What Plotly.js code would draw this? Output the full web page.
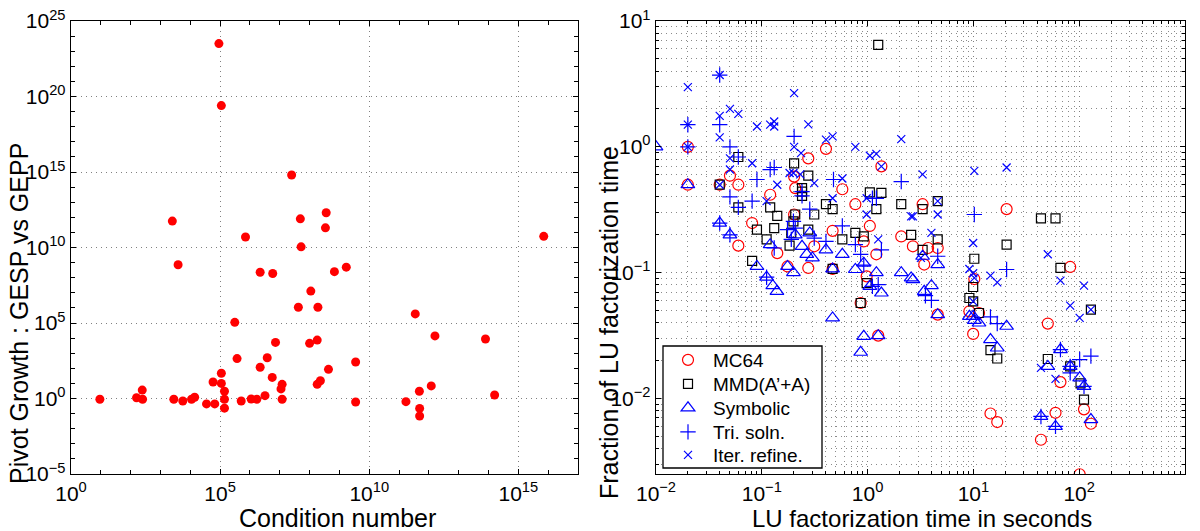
<!DOCTYPE html>
<html>
<head>
<meta charset="utf-8">
<script src="https://cdn.plot.ly/plotly-3.0.1.min.js"></script>
<style>
html,body{margin:0;padding:0;background:#fff;}
#chart{width:1200px;height:531px;}
#chart g.annotation:nth-of-type(3) text.annotation-text,
#chart g.annotation:nth-of-type(4) text.annotation-text{letter-spacing:2.5px;}
</style>
</head>
<body>
<div id="chart"></div>
<script>
// Left panel: condition number vs pivot growth (GESP vs GEPP)
const condNumber = [9.1e4,1.1e5,2.5e7,2.5e3,4.9e7,3.6e8,3.4e8,7.1e5,5.2e7,7.1e15,3.9e3,2.2e6,5.8e6,6.8e8,1.7e9,1.1e8,4.2e7,1.9e8,3.5e11,3.1e5,1.6e12,7.9e13,7.2e6,1.0e8,1.8e8,3.7e5,3.8e6,2.2e6,3.5e9,4.3e8,1.1e5,5.6e6,5.8e4,1.1e5,1.2e7,1.1e7,2.3e8,1.8e8,1.2e12,4.8e11,1.4e5,245,158,251,9.3,2.8e3,5.6e3,1.1e4,1.4e4,3.5e4,6.6e4,1.4e5,1.4e5,5.1e5,1.1e6,1.7e6,3.2e6,1.2e7,3.5e9,1.7e11,4.9e11,4.9e11,1.6e14];
const pivotGrowth = [3.2e23,2.5e19,6.3e14,5.6e11,7.9e11,2.0e12,2.0e11,5.0e10,1.1e10,5.5e10,7.2e8,2.3e8,1.9e8,2.5e8,5.0e8,1.3e7,1.1e6,1.1e6,4.0e5,1.1e5,1.4e4,8.7e3,5.2e3,4.5e3,7.4e3,440,500,117,263,85,47,25,12.3,10,8.7,4.3,15,8.7,6.8,3.0,3.0,3.6,1.12,0.89,0.89,0.89,0.68,0.89,1.2,0.44,0.44,0.89,0.23,0.68,0.93,0.89,1.55,0.89,0.59,0.62,0.22,0.069,1.7];
const leftXTickVals = [1, 1e5, 1e10, 1e15];
const leftXTickText = ['10<sup>0</sup>', '10<sup>5</sup>', '10<sup>10</sup>', '10<sup>15</sup>'];
const leftYTickVals = [1e-5, 1, 1e5, 1e10, 1e15, 1e20, 1e25];
const leftYTickText = ['10<sup>\u22125</sup>', '10<sup>0</sup>', '10<sup>5</sup>', '10<sup>10</sup>', '10<sup>15</sup>', '10<sup>20</sup>', '10<sup>25</sup>'];

// Right panel: fraction of LU factorization time vs LU time (s)
const mc64Time = [0.02,0.02,0.04,0.05,0.06,0.06,0.081,0.12,0.14,0.202,0.207,0.275,0.313,0.404,0.467,0.577,0.766,0.92,1.05,1.21,1.35,2.08,2.68,3.31,3.73,4.6,20.6,82.2,0.202,0.175,0.275,0.467,0.98,0.86,1.26,3.43,4.6,9.16,10.2,9.95,11.3,14.5,16.8,50.5,66.5,59.7,43.5,111,129,101];
const mc64Frac = [1.0,0.5,0.5,0.59,0.5,0.164,0.248,0.416,0.143,0.58,0.47,0.81,0.162,0.964,0.215,0.46,0.35,0.177,0.235,0.14,0.70,0.194,0.162,0.35,0.157,0.157,0.32,0.111,0.29,0.112,0.109,0.107,0.0935,0.0574,0.0316,0.116,0.0464,0.0493,0.089,0.0326,0.0478,0.0076,0.0065,0.0394,0.0135,0.0077,0.0047,0.0082,0.0063,0.0025];

const mmdTime = [1.26,0.06,0.202,0.04,0.275,0.24,0.24,0.24,0.06,0.12,0.14,0.207,0.313,0.404,0.467,1.05,1.35,1.21,2.08,3.31,4.6,43.5,59.7,0.09,0.111,0.131,0.19,0.199,0.183,0.275,0.577,0.766,0.92,2.58,3.31,4.6,10.2,20.6,66.5,0.081,0.467,0.98,0.86,9.95,9.16,9.95,11.3,14.5,16.8,129,50.5,82.2,103,111];
const mmdFrac = [6.45,0.83,0.74,0.5,0.59,0.47,0.44,0.408,0.33,0.33,0.283,0.29,0.29,0.35,0.32,0.435,0.43,0.32,0.35,0.32,0.37,0.27,0.27,0.22,0.184,0.226,0.207,0.256,0.164,0.22,0.184,0.207,0.194,0.20,0.152,0.184,0.129,0.167,0.109,0.124,0.107,0.0827,0.0574,0.0769,0.0629,0.0591,0.0478,0.0242,0.0208,0.0508,0.0206,0.018,0.0132,0.0098];

const symTime = [0.01,0.02,0.04,0.05,0.12,0.207,0.24,0.284,0.266,0.301,0.404,0.577,3.31,0.09,0.175,0.199,0.467,0.766,0.92,1.21,1.05,1.35,0.467,0.92,1.26,0.86,2.08,2.58,2.68,4.6,4.01,3.43,4.6,9.16,9.95,10.2,11.3,20.6,14.5,16.8,50.5,66.5,82.2,101,111,129,43.5,59.7,0.111,0.127,0.139];
const symFrac = [1.0,0.5,0.248,0.20,0.167,0.20,0.162,0.207,0.14,0.131,0.152,0.14,0.135,0.112,0.112,0.10,0.107,0.106,0.119,0.10,0.0779,0.0689,0.0437,0.0312,0.0316,0.0233,0.10,0.0908,0.088,0.116,0.0789,0.0711,0.0464,0.045,0.045,0.0418,0.0398,0.0375,0.0294,0.0252,0.018,0.0245,0.018,0.0146,0.0125,0.0068,0.0072,0.006,0.092,0.0789,0.0711];

const triTime = [0.02,0.02,0.04,0.04,0.05,0.202,0.06,0.12,0.131,0.09,0.476,2.08,0.24,0.24,0.05,0.06,0.081,1.11,1.21,10.2,0.04,0.05,0.131,0.175,0.207,0.199,0.19,0.313,0.404,0.577,0.766,1.35,4.6,0.284,0.86,1.11,1.26,3.52,4.01,20.6,14.5,16.8,66.5,82.2,82.2,101,129,111,43.5,59.7,0.92,0.111];
const triFrac = [1.5,1.0,3.72,1.5,1.0,1.21,0.83,0.66,0.685,0.55,0.55,0.53,0.44,0.408,0.40,0.33,0.37,0.39,0.39,0.29,0.248,0.20,0.157,0.22,0.226,0.256,0.184,0.188,0.177,0.235,0.167,0.152,0.135,0.32,0.14,0.0779,0.0804,0.0656,0.0603,0.106,0.0445,0.0394,0.0245,0.018,0.016,0.0204,0.0217,0.0125,0.0072,0.006,0.115,0.092];

const iterTime = [0.02,0.04,0.202,0.02,0.02,0.04,0.05,0.06,0.09,0.12,0.131,0.131,0.275,0.04,0.202,0.404,0.467,0.766,2.08,0.05,0.235,0.081,1.05,1.21,1.35,0.183,0.199,0.05,0.14,0.231,0.313,0.577,3.31,10.2,20.6,0.111,0.467,0.98,4.6,4.6,2.58,2.68,0.98,1.26,4.01,9.95,50.5,0.04,9.16,9.95,10.2,9.95,14.5,16.8,66.5,82.2,101,111,129,43.5,59.7,3.19];
const iterFrac = [2.98,3.72,2.67,1.5,1.0,1.76,2.0,1.83,1.45,1.50,1.59,1.45,1.51,1.19,1.0,1.14,1.21,1.0,1.15,0.81,0.89,0.74,0.85,0.88,0.70,0.62,0.62,0.66,0.50,0.605,0.515,0.56,0.605,0.645,0.685,0.37,0.39,0.39,0.37,0.29,0.28,0.28,0.29,0.184,0.207,0.172,0.14,0.5,0.107,0.099,0.0908,0.0591,0.0946,0.0837,0.0864,0.0547,0.0437,0.0789,0.0508,0.0175,0.0143,0.131];

const rightXTickVals = [0.01, 0.1, 1, 10, 100, 1000];
const rightXTickText = ['10<sup>\u22122</sup>', '10<sup>\u22121</sup>', '10<sup>0</sup>', '10<sup>1</sup>', '10<sup>2</sup>', '10<sup>3</sup>'];
const rightYTickVals = [0.01, 0.1, 1, 10];
const rightYTickText = ['10<sup>\u22122</sup>', '10<sup>\u22121</sup>', '10<sup>0</sup>', '10<sup>1</sup>'];

const FONT = 'Liberation Sans, Arial, sans-serif';
const BLUE = '#0000ff', RED = '#ff0000';
const GRIDDASH = '1px,4px';

const traces = [
  {x: condNumber, y: pivotGrowth, xaxis:'x', yaxis:'y', type:'scatter', mode:'markers', showlegend:false,
   marker:{color:RED, size:9, line:{width:0}}},
  {x: mc64Time, y: mc64Frac, xaxis:'x2', yaxis:'y2', type:'scatter', mode:'markers', name:'MC64', legend:'legend',
   marker:{symbol:'circle-open', color:RED, size:11, line:{width:1.2}}},
  {x: mmdTime, y: mmdFrac, xaxis:'x2', yaxis:'y2', type:'scatter', mode:'markers', name:'MMD(A\u2019+A)', legend:'legend2',
   marker:{symbol:'square-open', color:'#000000', size:9, line:{width:1.2}}},
  {x: symTime, y: symFrac, xaxis:'x2', yaxis:'y2', type:'scatter', mode:'markers', name:'Symbolic', legend:'legend3',
   marker:{symbol:'triangle-up-open', color:BLUE, size:12, line:{width:1.2}}},
  {x: triTime, y: triFrac, xaxis:'x2', yaxis:'y2', type:'scatter', mode:'markers', name:'Tri. soln.', legend:'legend4',
   marker:{symbol:'cross-thin-open', color:BLUE, size:11, line:{width:1.2}}},
  {x: iterTime, y: iterFrac, xaxis:'x2', yaxis:'y2', type:'scatter', mode:'markers', name:'Iter. refine.', legend:'legend5',
   marker:{symbol:'x-thin-open', color:BLUE, size:8, line:{width:1.2}}}
];

function axisBase() {
  return {type:'log', tickmode:'array', showline:true, linecolor:'#000', linewidth:1.3,
    mirror:'allticks', ticks:'inside', ticklen:5, tickcolor:'#000', zeroline:false,
    showgrid:true, gridcolor:'#808080', griddash:GRIDDASH, gridwidth:1,
    tickfont:{family:FONT, size:21, color:'#000'}};
}

const xa1 = Object.assign(axisBase(), {domain:[71/1200, 578/1200], range:[0,17], anchor:'y',
  tickvals:leftXTickVals, ticktext:leftXTickText,
  minor:{dtick:1, ticks:'inside', ticklen:4, tickcolor:'#000', showgrid:false}});
const ya1 = Object.assign(axisBase(), {domain:[1-474/531, 1-21/531], range:[-5,25], anchor:'x',
  tickvals:leftYTickVals, ticktext:leftYTickText,
  minor:{dtick:1, ticks:'inside', ticklen:4, tickcolor:'#000', showgrid:false}});
const xa2 = Object.assign(axisBase(), {domain:[656/1200, 1185/1200], range:[-2,3], anchor:'y2',
  tickvals:rightXTickVals, ticktext:rightXTickText,
  minor:{dtick:'D1', ticks:'inside', ticklen:3, tickcolor:'#000', showgrid:true, gridcolor:'#8a8a8a', griddash:GRIDDASH, gridwidth:1}});
const ya2 = Object.assign(axisBase(), {domain:[1-474/531, 1-21/531], range:[-2.6,1], anchor:'x2',
  tickvals:rightYTickVals, ticktext:rightYTickText,
  minor:{dtick:'D1', ticks:'inside', ticklen:3, tickcolor:'#000', showgrid:true, gridcolor:'#8a8a8a', griddash:GRIDDASH, gridwidth:1}});

const titleFontY = {family:FONT, size:25, color:'#000'};
const annotations = [
  {text:'Condition number', xref:'paper', yref:'paper', x:337/1200, y:1-518/531, xanchor:'center', yanchor:'middle', showarrow:false, font:{family:FONT, size:25, color:'#000'}},
  {text:'LU factorization time in seconds', xref:'paper', yref:'paper', x:922/1200, y:1-518/531, xanchor:'center', yanchor:'middle', showarrow:false, font:{family:FONT, size:24, color:'#000'}},
  {text:'Pivot Growth : GESP vs GEPP', xref:'paper', yref:'paper', x:19/1200, y:1-314/531, xanchor:'center', yanchor:'middle', textangle:-90, showarrow:false, font:titleFontY},
  {text:'Fraction of LU factorization time', xref:'paper', yref:'paper', x:609/1200, y:1-322/531, xanchor:'center', yanchor:'middle', textangle:-90, showarrow:false, font:titleFontY}
];

// legend frame (white box drawn over the markers, legend entries drawn on top)
const shapes = [
  {type:'rect', xref:'paper', yref:'paper', x0:663/1200, x1:822/1200, y0:1-468/531, y1:1-346/531,
   fillcolor:'#ffffff', line:{color:'#000', width:1.3}, layer:'above'}
];

function legendAt(py) {
  return {x:663/1200, y:1-py/531, xanchor:'left', yanchor:'middle', bgcolor:'rgba(0,0,0,0)', borderwidth:0,
    itemwidth:40, font:{family:FONT, size:19, color:'#000'}};
}

const layout = {
  width:1200, height:531, margin:{l:0, r:0, t:0, b:0}, paper_bgcolor:'#fff', plot_bgcolor:'#fff',
  font:{family:FONT, color:'#000'},
  xaxis:xa1, yaxis:ya1, xaxis2:xa2, yaxis2:ya2,
  annotations:annotations, shapes:shapes,
  showlegend:true,
  legend:legendAt(360), legend2:legendAt(384), legend3:legendAt(408), legend4:legendAt(432), legend5:legendAt(455)
};

Plotly.newPlot('chart', traces, layout, {staticPlot:true, displayModeBar:false});
</script>
</body>
</html>
